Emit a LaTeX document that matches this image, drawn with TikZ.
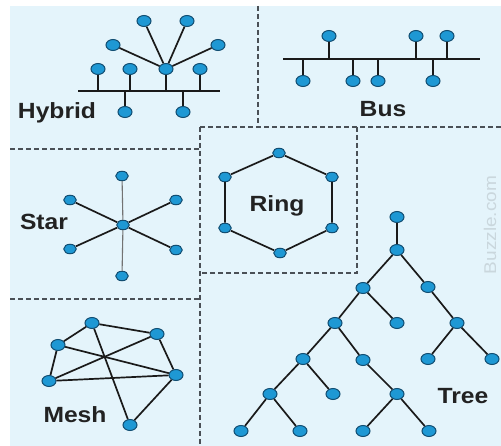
\documentclass[tikz,border=0pt]{standalone}
\usepackage{fontspec}
\setmainfont[FakeStretch=1.12]{Liberation Sans}
\usetikzlibrary{shapes.geometric}
\definecolor{bg}{HTML}{E4F4FB}
\definecolor{nodefill}{HTML}{1E98D4}
\definecolor{nodeline}{HTML}{124E72}
\definecolor{edgec}{HTML}{1A1A1A}
\definecolor{dashc}{HTML}{4A5056}
\definecolor{txt}{HTML}{222222}
\definecolor{wm}{HTML}{CAD7DD}
\begin{document}
\begin{tikzpicture}[x=1pt,y=-1pt,
 dev/.style={ellipse, fill=nodefill, draw=nodeline, line width=1pt, minimum width=14pt, minimum height=11pt, inner sep=0pt},
 sdev/.style={dev, minimum width=12.5pt, minimum height=9.5pt},
 link/.style={draw=edgec, line width=1.7pt},
 thinlink/.style={draw=black!55, line width=1.1pt},
 busline/.style={draw=edgec, line width=2.2pt},
 sep/.style={draw=dashc, line width=1.1pt, dash pattern=on 5pt off 3pt},
 lbl/.style={font=\fontsize{22}{24}\selectfont\bfseries, text=txt, inner sep=0pt, anchor=base}]
\useasboundingbox (0,0) rectangle (501,446);
\fill[white] (0,0) rectangle (501,446);
\fill[bg] (10,6) rectangle (501,446);
% separators
\draw[sep] (258,6) -- (258,127);
\draw[sep] (200,127) -- (501,127);
\draw[sep] (200,127) -- (200,446);
\draw[sep] (10,149) -- (200,149);
\draw[sep] (10,299) -- (200,299);
\draw[sep] (357,127) -- (357,273) -- (200,273);
% watermark
\node[rotate=90, font=\fontsize{17}{17}\selectfont, text=wm, inner sep=0pt] (wmark) at (490,225) {Buzzle.com};
% ---------- Hybrid ----------
\coordinate (hbL) at (78,91);
\coordinate (hbR) at (220,91);
\node[dev] (h1) at (98,69) {};
\node[dev] (h2) at (130,69) {};
\node[dev] (hub) at (166,69) {};
\node[dev] (h4) at (200,69) {};
\node[dev] (h5) at (125,112) {};
\node[dev] (h6) at (183,112) {};
\node[dev] (f1) at (113,45) {};
\node[dev] (f2) at (144,21) {};
\node[dev] (f3) at (187,21) {};
\node[dev] (f4) at (218,45) {};
\draw[link] (hbL) -- (hbR);
\foreach \n in {h1,h2,hub,h4,h5,h6} \draw[link] (\n) -- (\n |- hbL);
\foreach \n in {f1,f2,f3,f4} \draw[link] (hub) -- (\n);
\node[lbl] (thyb) at (57,119) {Hybrid};
% ---------- Bus ----------
\coordinate (bL) at (283,59);
\coordinate (bR) at (480,59);
\node[dev] (b1) at (329,36) {};
\node[dev] (b2) at (416,36) {};
\node[dev] (b3) at (447,36) {};
\node[dev] (b4) at (303,81) {};
\node[dev] (b5) at (353,81) {};
\node[dev] (b6) at (378,81) {};
\node[dev] (b7) at (433,81) {};
\draw[busline] (bL) -- (bR);
\foreach \n in {b1,b2,b3,b4,b5,b6,b7} \draw[link] (\n) -- (\n |- bL);
\node[lbl] (tbus) at (383,117) {Bus};
% ---------- Star ----------
\node[sdev] (sc) at (123,225) {};
\node[sdev] (s1) at (122,176) {};
\node[sdev] (s2) at (176,200) {};
\node[sdev] (s3) at (176,250) {};
\node[sdev] (s4) at (122,276) {};
\node[sdev] (s5) at (70,249) {};
\node[sdev] (s6) at (70,200) {};
\draw[thinlink] (sc) -- (s1);
\draw[thinlink] (sc) -- (s4);
\foreach \n in {s2,s3,s5,s6} \draw[link] (sc) -- (\n);
\node[lbl] (tstar) at (44,230) {Star};
% ---------- Ring ----------
\node[sdev] (r1) at (279,153) {};
\node[sdev] (r2) at (332,177) {};
\node[sdev] (r3) at (332,228) {};
\node[sdev] (r4) at (280,253) {};
\node[sdev] (r5) at (225,228) {};
\node[sdev] (r6) at (225,177) {};
\draw[link] (r1) -- (r2) -- (r3) -- (r4) -- (r5) -- (r6) -- (r1);
\node[lbl] (tring) at (277,212) {Ring};
% ---------- Mesh ----------
\node[dev] (mA) at (92,323) {};
\node[dev] (mB) at (157,334) {};
\node[dev] (mC) at (58,345) {};
\node[dev] (mD) at (49,381) {};
\node[dev] (mE) at (176,375) {};
\node[dev] (mF) at (130,425) {};
\foreach \a/\b in {mA/mB, mA/mC, mA/mF, mC/mD, mC/mE, mD/mB, mD/mE, mB/mE, mE/mF}
  \draw[link] (\a) -- (\b);
\node[lbl] (tmesh) at (75,422) {Mesh};
% ---------- Tree ----------
\node[dev] (t0) at (397,217) {};
\node[dev] (t1) at (397,250) {};
\node[dev] (t2) at (363,288) {};
\node[dev] (t3) at (428,287) {};
\node[dev] (t4) at (335,323) {};
\node[dev] (t5) at (397,323) {};
\node[dev] (t6) at (457,323) {};
\node[dev] (t7) at (428,359) {};
\node[dev] (t8) at (492,359) {};
\node[dev] (t9) at (303,359) {};
\node[dev] (t10) at (363,360) {};
\node[dev] (t11) at (270,394) {};
\node[dev] (t12) at (333,394) {};
\node[dev] (t13) at (241,431) {};
\node[dev] (t14) at (300,431) {};
\node[dev] (t15) at (397,394) {};
\node[dev] (t16) at (363,431) {};
\node[dev] (t17) at (429,431) {};
\foreach \a/\b in {t0/t1, t1/t2, t1/t3, t2/t4, t2/t5, t3/t6, t6/t7, t6/t8, t4/t9, t4/t10, t9/t11, t9/t12, t11/t13, t11/t14, t10/t15, t15/t16, t15/t17}
  \draw[link] (\a) -- (\b);
\node[lbl] (ttree) at (463,403) {Tree};
\end{tikzpicture}
\end{document}
